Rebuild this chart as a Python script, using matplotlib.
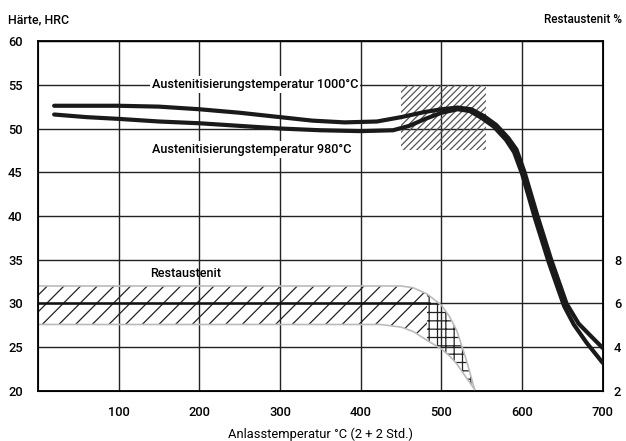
import numpy as np
import matplotlib
matplotlib.use("Agg")
import matplotlib.pyplot as plt

plt.rcParams['font.family'] = ['Roboto', 'DejaVu Sans']
plt.rcParams['font.weight'] = 'medium'
plt.rcParams['hatch.linewidth'] = 0.9

# Haerte nach Anlassen, Austenitisierung 1000 C
temp_1000 = [20, 60, 100, 150, 200, 250, 300, 340, 380, 420, 450, 480, 500, 520, 537, 553,
             568, 583, 593, 603, 619, 636, 655, 670, 686, 700]
hrc_1000 = [52.6, 52.6, 52.6, 52.5, 52.2, 51.8, 51.3, 50.9, 50.7, 50.8, 51.3, 51.9, 52.2, 52.4,
            52.2, 51.4, 50.4, 48.9, 47.6, 45.0, 40.0, 35.0, 30.0, 27.7, 26.2, 24.9]

# Haerte nach Anlassen, Austenitisierung 980 C
temp_980 = [20, 60, 100, 150, 200, 250, 300, 350, 400, 440, 460, 480, 500, 520, 535, 550,
            565, 580, 590, 600, 616, 633, 652, 664, 680, 700]
hrc_980 = [51.6, 51.3, 51.1, 50.8, 50.6, 50.3, 50.0, 49.8, 49.7, 49.8, 50.3, 51.1, 51.8, 52.2,
           52.0, 51.2, 50.2, 48.7, 47.3, 44.8, 39.7, 34.7, 29.7, 27.6, 25.5, 23.2]

# Restaustenit (%), Streuband
ra_temp = np.array([0, 424, 450, 465, 482, 500, 510, 519, 531, 541])
ra_upper = [6.8, 6.8, 6.8, 6.72, 6.44, 5.92, 5.4, 4.76, 3.4, 2.08]
ra_lower = [5.04, 5.04, 4.92, 4.72, 4.32, 3.92, 3.6, 3.24, 2.6, 2.08]
ra_mid_temp = [0, 485]
ra_mid = [6, 6]

# Streubereich Sekundaerhaerte
box_temp = [450, 555]
box_hrc = [47.5, 55]

fig = plt.figure(figsize=(6.26, 4.41), dpi=100)
ax = fig.add_axes([0.0607, 0.1134, 0.9023, 0.7936])

ax.set_xlim(0, 700)
ax.set_ylim(20, 60)
ax.set_xticks([100, 200, 300, 400, 500, 600, 700])
ax.set_yticks([20, 25, 30, 35, 40, 45, 50, 55, 60])
ax.grid(True, color='#222222', linewidth=1.0)
ax.tick_params(length=0, labelsize=9.3)
ax.tick_params(axis='y', pad=11)
ax.tick_params(axis='x', pad=11)
for s in ax.spines.values():
    s.set_linewidth(1.3)

ax.fill_between(box_temp, box_hrc[0], box_hrc[1], facecolor='none', edgecolor='#555555',
                hatch='/////', linewidth=0, zorder=2)

ax.plot(temp_980, hrc_980, color='#1a1a1a', linewidth=3.0, solid_capstyle='round', zorder=3)
ax.plot(temp_1000, hrc_1000, color='#1a1a1a', linewidth=3.0, solid_capstyle='round', zorder=3)

ax.text(141, 55, 'Austenitisierungstemperatur 1000°C', fontsize=9.1, va='center', ha='left',
        bbox=dict(facecolor='white', edgecolor='none', pad=1.5), zorder=4)
ax.text(141, 47.6, 'Austenitisierungstemperatur 980°C', fontsize=9.1, va='center', ha='left',
        bbox=dict(facecolor='white', edgecolor='none', pad=1.5), zorder=4)
ax.text(139, 33.4, 'Restaustenit', fontsize=9.1, va='center', ha='left', zorder=4)

ax.set_xlabel('Anlasstemperatur °C (2 + 2 Std.)', fontsize=9.3, labelpad=6)

ax2 = ax.twinx()
ax2.set_ylim(2, 18)
ax2.set_yticks([2, 4, 6, 8])
ax2.tick_params(length=0, labelsize=9.3, pad=8)

flat = ra_temp <= 482
curved = ra_temp >= 482
ax2.fill_between(ra_temp, ra_lower, ra_upper, where=flat, facecolor='none', edgecolor='#222222',
                 hatch='//', linewidth=0)
ax2.fill_between(ra_temp, ra_lower, ra_upper, where=curved, facecolor='none', edgecolor='#222222',
                 hatch='++', linewidth=0)
ax2.plot(ra_temp, ra_upper, color='#bbbbbb', linewidth=1.2)
ax2.plot(ra_temp, ra_lower, color='#bbbbbb', linewidth=1.2)
ax2.plot(ra_mid_temp, ra_mid, color='#111111', linewidth=1.8)

fig.text(0.013, 0.955, 'Härte, HRC', fontsize=8.9, ha='left', va='center')
fig.text(0.993, 0.955, 'Restaustenit %', fontsize=8.5, ha='right', va='center')

fig.savefig('out.png', dpi=100)
